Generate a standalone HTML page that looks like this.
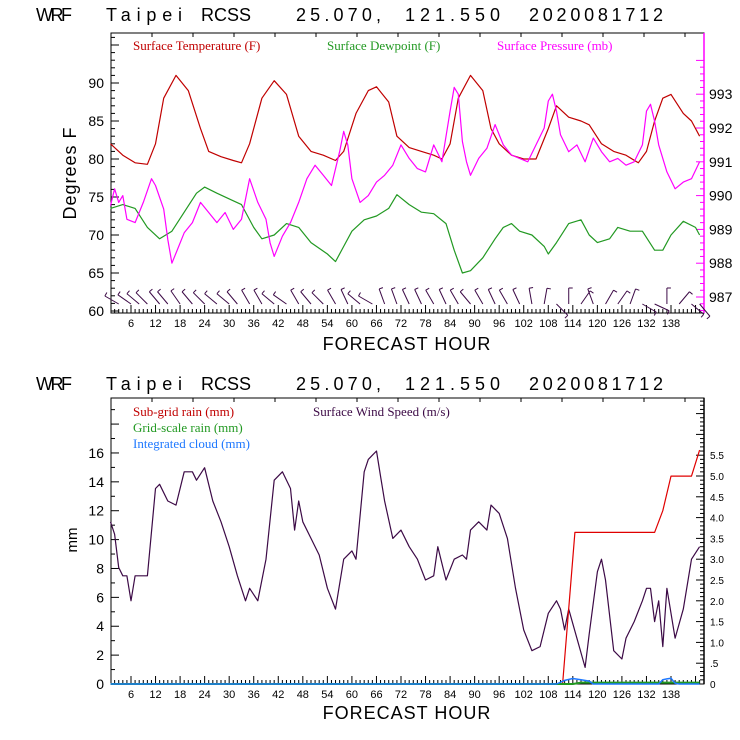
<!DOCTYPE html>
<html><head><meta charset="utf-8"><style>
html,body{margin:0;padding:0;background:#fff;}
svg{display:block;}
.t{font-family:"Liberation Sans",sans-serif;}
.s{font-family:"Liberation Serif",serif;font-size:13px;}
</style></head><body>
<svg id="c" width="740" height="740" viewBox="0 0 740 740" xmlns="http://www.w3.org/2000/svg">
<rect width="740" height="740" fill="#fff"/>
<g class="t" font-size="18">
<text x="36" y="21" textLength="36" lengthAdjust="spacing">WRF</text><text x="106" y="21" textLength="76" lengthAdjust="spacing">Taipei</text><text x="201" y="21" textLength="50" lengthAdjust="spacing">RCSS</text><text x="296" y="21" textLength="85" lengthAdjust="spacing">25.070,</text><text x="405" y="21" textLength="95" lengthAdjust="spacing">121.550</text><text x="529" y="21" textLength="134" lengthAdjust="spacing">2020081712</text>
</g>
<g class="t" font-size="18">
<text x="36" y="390" textLength="36" lengthAdjust="spacing">WRF</text><text x="106" y="390" textLength="76" lengthAdjust="spacing">Taipei</text><text x="201" y="390" textLength="50" lengthAdjust="spacing">RCSS</text><text x="296" y="390" textLength="85" lengthAdjust="spacing">25.070,</text><text x="405" y="390" textLength="95" lengthAdjust="spacing">121.550</text><text x="529" y="390" textLength="134" lengthAdjust="spacing">2020081712</text>
</g>
<text class="s" x="133" y="50" fill="#c00000">Surface Temperature (F)</text>
<text class="s" x="327" y="50" fill="#229922">Surface Dewpoint (F)</text>
<text class="s" x="497" y="50" fill="#ff00ff">Surface Pressure (mb)</text>
<text class="s" x="133" y="416" fill="#c00000">Sub-grid rain (mm)</text>
<text class="s" x="313" y="416" fill="#3c0a46">Surface Wind Speed (m/s)</text>
<text class="s" x="133" y="432" fill="#229922">Grid-scale rain (mm)</text>
<text class="s" x="133" y="448" fill="#1e78ff">Integrated cloud (mm)</text>
<text class="t" x="407" y="350" font-size="18" text-anchor="middle" letter-spacing="1">FORECAST HOUR</text>
<text class="t" x="407" y="719" font-size="18" text-anchor="middle" letter-spacing="1">FORECAST HOUR</text>
<text class="t" x="0" y="0" font-size="18" text-anchor="middle" letter-spacing="1" transform="translate(76,173) rotate(-90)">Degrees F</text>
<text class="t" x="0" y="0" font-size="15" text-anchor="middle" transform="translate(77,540) rotate(-90)">mm</text>
</svg>
<script>
const xTicks=[6,12,18,24,30,36,42,48,54,60,66,72,78,84,90,96,102,108,114,120,126,132,138];
const tempH=[1,4,7,10,12,14,17,20,23,25,28,31,33,35,38,41,44,47,50,53,56,58,61,64,66,69,71,74,77,80,82,84,86,89,92,94,96,99,102,105,108,110,113,116,118,121,124,127,130,132,134,136,138,141,143,145];
const tempV=[82,80.5,79.5,79.3,82,88,91,89,84,81,80.3,79.8,79.5,82,88,90.3,88.5,83,81,80.5,79.8,81,86,89,89.5,87.5,83,81.5,81,80.5,80,82,88,91,89,84,82,80.5,80,80,84,87,85.5,85,84.5,82,81,80.5,79.5,81,85,88,88.5,86,85,83];
const dewH=[1,4,7,10,13,16,19,22,24,27,31,33,36,38,41,44,47,50,54,56,58,60,63,66,69,71,74,77,80,83,85,87,89,92,95,97,99,101,104,107,108,110,113,116,118,120,123,125,128,131,134,136,138,141,144,145];
const dewV=[73.5,74,73.5,71,69.5,70.5,73,75.5,76.3,75.5,74.5,74,71,69.5,70,71.5,71,69,67.5,66.5,68.5,70.5,72,72.5,73.5,75.3,74,73,72.8,71.5,68,65,65.3,67,69.5,71,71.5,70.5,70,68.5,67.5,69,71.5,72,70,69,69.5,71,70.5,70.5,68,68,70,71.8,71,70];
const presH=[1,2,3,4,5,7,9,11,12,14,15,16,17,19,21,23,25,27,29,31,33,35,37,39,40,41,43,45,47,49,51,53,55,57,58,59,60,62,64,66,68,70,72,74,76,78,80,82,84,85,86,87,88,89,91,93,95,97,99,101,103,105,107,108,109,110,111,113,115,117,119,121,123,125,127,129,131,132,133,134,135,137,139,141,143,145];
const presV=[989.7,990.2,989.8,990.0,989.3,989.2,989.8,990.5,990.3,989.6,988.7,988.0,988.3,988.9,989.2,989.8,989.5,989.2,989.5,989.0,989.3,990.5,989.8,989.3,988.6,988.2,988.8,989.2,989.8,990.5,990.9,990.6,990.3,991.3,991.9,991.5,990.5,989.8,990.0,990.4,990.6,990.9,991.5,991.1,990.8,990.7,991.5,991.0,992.5,993.2,993.0,991.6,991.0,990.6,991.1,991.4,992.1,991.5,991.2,991.1,991.0,991.5,992.0,992.8,993.0,992.5,991.8,991.3,991.5,991.0,991.7,991.3,991.0,991.1,990.9,991.0,991.5,992.5,992.7,992.2,991.5,990.7,990.2,990.4,990.5,991.0];
const barbH=[3,6,8,10,13,15,18,21,24,27,30,32,35,38,41,44,47,50,53,56,59,62,65,68,71,74,77,80,83,86,89,92,95,98,101,104,107,110,113,116,119,122,125,128,131,134,137,140,143,145];
const barbDir=[300,305,310,315,320,320,325,320,315,310,310,320,330,330,310,305,330,320,315,330,335,310,300,340,340,335,335,330,335,330,320,330,335,330,335,350,10,135,0,35,340,30,35,20,120,115,360,40,130,140];
const windH=[1,2,3,4,5,6,7,8,10,12,13,15,17,19,21,22,24,26,28,30,32,34,35,37,39,41,43,45,46,47,48,50,52,54,56,58,60,61,63,64,65,66,67,68,70,72,74,76,78,80,81,83,85,87,88,89,91,93,94,96,98,100,102,104,106,108,110,111,112,113,115,117,118,120,121,122,124,126,127,129,131,132,133,134,135,136,137,139,141,143,145];
const windV=[3.9,3.6,2.8,2.6,2.6,2.0,2.6,2.6,2.6,4.7,4.8,4.4,4.3,5.1,5.1,4.9,5.2,4.4,3.9,3.3,2.6,2.0,2.3,2.0,3.0,4.9,5.1,4.7,3.7,4.4,3.9,3.5,3.1,2.3,1.8,3.0,3.2,3.0,5.1,5.4,5.5,5.6,5.0,4.4,3.5,3.7,3.3,3.0,2.5,2.6,3.3,2.5,3.0,3.1,3.0,3.7,3.9,3.7,4.3,4.1,3.5,2.3,1.3,0.8,0.9,1.7,2.0,1.8,1.3,1.8,1.1,0.4,1.2,2.7,3.0,2.5,0.8,0.6,1.1,1.5,2.0,2.3,2.3,1.5,2.0,0.9,2.3,1.1,1.8,3.0,3.3];
const rainH=[1,111.5,114.5,134,136,138,143,145];
const rainV=[0,0,10.5,10.5,12,14.4,14.4,16.2];
const gridH=[1,114,116,145];
const gridV=[0,0,0.1,0.1];
const cloudH=[1,110,112,114,116,118,119,135,136,137,138,139,140,145];
const cloudV=[0,0,0.25,0.38,0.3,0.2,0,0,0.3,0.35,0.4,0.05,0,0];

const svg=document.getElementById('c');
const NS='http://www.w3.org/2000/svg';
const L=111,R=704,T1=33,B1=313,T2=398,B2=684;
const X=h=>131+(h-6)*4.0909;
const yT=v=>311-(v-60)*7.6;
const yP=v=>297-(v-987)*33.8;
const yMM=v=>684-v*14.44;
const yW=v=>684-v*41.6;
function mk(tag,attrs,parent){const e=document.createElementNS(NS,tag);for(const k in attrs)e.setAttribute(k,attrs[k]);(parent||svg).appendChild(e);return e;}
function txt(x,y,s,size,anchor,fill){const e=mk('text',{x:x,y:y,'font-size':size,'text-anchor':anchor,fill:fill||'#000','class':'t'});e.textContent=s;return e;}

function frame(T,B,rc,name){
  const g=mk('g',{});
  
  
  mk('rect',{x:L,y:T,width:R-L,height:B-T,fill:'none',stroke:'#000','stroke-width':1},g);
  mk('line',{x1:R,y1:T,x2:R,y2:B,stroke:rc,'stroke-width':1.5},g);
  for(let h=2;h<=145;h++){const x=X(h);const maj=h%6===0;mk('line',{x1:x,y1:B,x2:x,y2:B-(maj?8:4),stroke:'#000'},g);}
  for(let x=L+41;x<R;x+=41){mk('line',{x1:x,y1:T,x2:x,y2:T+4,stroke:'#000'},g);}
  xTicks.forEach(h=>{const t=txt(X(h),B+14,String(h),11,'middle');g.appendChild(t);});
  return g;
}
const g1=frame(T1,B1,'#ff00ff','top-panel');
for(let v=60;v<=96;v++){const y=yT(v);const maj=v%5===0;mk('line',{x1:L,y1:y,x2:L+(maj?8:4),y2:y,stroke:'#000'},g1);if(maj&&v<=90)g1.appendChild(txt(104,y+5,String(v),14,'end'));}
for(let v=986.6;v<=994.1;v+=0.2){const y=yP(v);if(y<T1||y>B1)continue;const maj=Math.abs(v-Math.round(v))<0.01;mk('line',{x1:R,y1:y,x2:R-(maj?8:4),y2:y,stroke:'#ff00ff'},g1);if(maj&&Math.round(v)<=993)g1.appendChild(txt(709,y+5,String(Math.round(v)),14,'start'));}
const g2=frame(T2,B2,'#000','bottom-panel');
for(let v=0;v<=19;v++){const y=yMM(v);if(y<T2)break;const maj=v%2===0;mk('line',{x1:L,y1:y,x2:L+(maj?8:4),y2:y,stroke:'#000'},g2);if(maj&&v<=16)g2.appendChild(txt(104,y+5,String(v),14,'end'));}
for(let i=0;i<=68;i++){const v=i/10;const y=yW(v);if(y<T2)break;const maj=i%5===0;mk('line',{x1:R,y1:y,x2:R-(maj?8:4),y2:y,stroke:'#000'},g2);if(maj&&i<=55){let s=i===0?'0':(i<10?'.5':(i/10).toFixed(1));g2.appendChild(txt(710,y+4,s,10,'start'));}}

function series(H,V,xf,yf,color,name,w){
  const d=H.map((h,i)=>(i?'L':'M')+xf(h).toFixed(1)+' '+yf(V[i]).toFixed(1)).join(' ');
  const p=mk('path',{d:d,fill:'none',stroke:color,'stroke-width':w||1.2,'stroke-linejoin':'round'});
  
  
}
series(tempH,tempV,X,yT,'#c00000','temperature-line');
series(dewH,dewV,X,yT,'#229922','dewpoint-line');
series(presH,presV,X,yP,'#ff00ff','pressure-line');
series(windH,windV,X,yW,'#3c0a46','wind-speed-line');
series(rainH,rainV,X,yMM,'#e00000','subgrid-rain-line');
series(gridH,gridV,X,yMM,'#229922','gridscale-rain-line',2);
series(cloudH,cloudV,X,yMM,'#1e78ff','integrated-cloud-line',1.5);

const gb=mk('g',{});


barbH.forEach((h,i)=>{
  const a=barbDir[i]*Math.PI/180;const x0=X(h),y0=304;
  const x1=x0+Math.sin(a)*16,y1=y0-Math.cos(a)*16;
  mk('line',{x1:x0,y1:y0,x2:x1,y2:y1,stroke:'#3c0a46','stroke-width':1},gb);
  const bx=x1+Math.sin(a+Math.PI/2)*4,by=y1-Math.cos(a+Math.PI/2)*4;
  mk('line',{x1:x1,y1:y1,x2:bx,y2:by,stroke:'#3c0a46','stroke-width':1},gb);
});
</script>
</body></html>
